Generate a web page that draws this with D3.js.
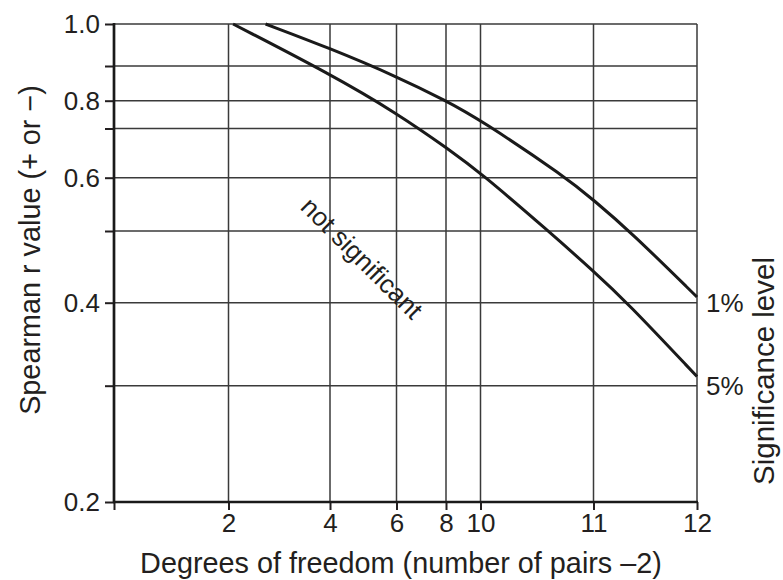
<!DOCTYPE html>
<html>
<head>
<meta charset="utf-8">
<script src="https://cdn.jsdelivr.net/npm/d3@7"></script>
<style>
  body { margin: 0; background: #fff; }
  svg { display: block; }
  text { font-family: "Liberation Sans", Arial, Helvetica, sans-serif; fill: #231f20; }
</style>
</head>
<body>
<svg id="chart" width="783" height="580"></svg>
<script>
// ---- data ----
const dfKnots = [0, 2, 4, 6, 8, 10, 11, 12];          // non-uniform printed axis
const dfTicks = [0, 2, 4, 6, 8, 10, 11, 12];
const dfTickLabels = ["", "2", "4", "6", "8", "10", "11", "12"];
const rKnots = [0.2, 0.3, 0.4, 0.5, 0.6, 0.7, 0.8, 0.9, 1.0];
const rLabelTicks = [0.2, 0.4, 0.6, 0.8, 1.0];

const sig1DF = [2.73, 4, 6, 8, 10, 10.76, 11, 11.35, 12];
const sig1R  = [1.0, 0.942, 0.870, 0.8, 0.731, 0.6, 0.558, 0.5, 0.408];
const sig5DF = [2.09, 4, 6, 8.23, 10, 10.6, 11, 11.32, 12];
const sig5R  = [1.0, 0.877, 0.756, 0.656, 0.61, 0.5, 0.444, 0.401, 0.311];
const seriesNames = ["1%", "5%"];
const seriesLabelR = [0.4, 0.3];

const xTitle = "Degrees of freedom (number of pairs \u20132)";
const yTitle = "Spearman r value (+ or \u2212)";
const rightTitle = "Significance level";
const regionLabel = "not significant";

// ---- scales ----
const svg = d3.select("#chart");
const x = d3.scaleLinear().domain(dfKnots)
  .range([114, 228.5, 330, 396.5, 446, 480.5, 593.5, 697]);
const y = d3.scaleLinear().domain(rKnots)
  .range([502, 385.7, 302.7, 231, 177.7, 128.5, 100.7, 66, 24]);

const gridColor = "#3a3a3a";

// grid lines
svg.append("g").selectAll("line.h").data(rKnots.slice(1)).join("line")
  .attr("x1", x(0)).attr("x2", x(12))
  .attr("y1", d => y(d)).attr("y2", d => y(d))
  .attr("stroke", gridColor).attr("stroke-width", 1.5);
svg.append("g").selectAll("line.v").data(dfTicks.slice(1)).join("line")
  .attr("x1", d => x(d)).attr("x2", d => x(d))
  .attr("y1", y(1.0)).attr("y2", y(0.2))
  .attr("stroke", gridColor).attr("stroke-width", 1.5);

// axes
const yAxis = d3.axisLeft(y).tickValues(rKnots)
  .tickFormat(d => rLabelTicks.some(v => Math.abs(v - d) < 1e-9) ? d.toFixed(1) : "")
  .tickSize(9).tickPadding(5).tickSizeOuter(0);
const gy = svg.append("g").attr("transform", `translate(${x(0)},0)`).call(yAxis);
gy.select(".domain").remove();
gy.selectAll(".tick line").attr("stroke", "#231f20").attr("stroke-width", 2);
gy.selectAll(".tick text").attr("font-size", 26).style("font-family", "Liberation Sans, Arial, sans-serif").attr("fill", "#231f20");

const xAxis = d3.axisBottom(x).tickValues(dfTicks)
  .tickFormat((d, i) => dfTickLabels[i])
  .tickSize(8).tickPadding(4).tickSizeOuter(0);
const gx = svg.append("g").attr("transform", `translate(0,${y(0.2)})`).call(xAxis);
gx.select(".domain").remove();
gx.selectAll(".tick line").attr("stroke", "#231f20").attr("stroke-width", 2);
gx.selectAll(".tick text").attr("font-size", 26).style("font-family", "Liberation Sans, Arial, sans-serif").attr("fill", "#231f20");

// axis lines
svg.append("line").attr("x1", x(0)).attr("x2", x(0)).attr("y1", y(1.0) - 1).attr("y2", y(0.2) + 1)
  .attr("stroke", "#1a1a1a").attr("stroke-width", 2.7);
svg.append("line").attr("x1", x(0) - 1).attr("x2", x(12) + 1).attr("y1", y(0.2)).attr("y2", y(0.2))
  .attr("stroke", "#1a1a1a").attr("stroke-width", 2.7);

// curves
const series = [
  sig1DF.map((d, i) => ({ df: d, r: sig1R[i] })),
  sig5DF.map((d, i) => ({ df: d, r: sig5R[i] }))
];
const line = d3.line().x(d => x(d.df)).y(d => y(d.r)).curve(d3.curveBasis);
svg.append("g").selectAll("path").data(series).join("path")
  .attr("d", line).attr("fill", "none").attr("stroke", "#1a1a1a").attr("stroke-width", 3);

// series labels
svg.append("g").selectAll("text").data(seriesNames).join("text")
  .attr("x", x(12) + 9).attr("y", (d, i) => y(seriesLabelR[i]))
  .attr("dy", "0.35em").attr("font-size", 26).text(d => d);

// titles
svg.append("text").attr("x", 401).attr("y", 573).attr("text-anchor", "middle")
  .attr("font-size", 28.8).text(xTitle);
svg.append("text").attr("transform", "translate(40,250) rotate(-90)").attr("text-anchor", "middle")
  .attr("font-size", 28.8).text(yTitle);
svg.append("text").attr("transform", "translate(774,371) rotate(-90)").attr("text-anchor", "middle")
  .attr("font-size", 29.5).text(rightTitle);
svg.append("text").attr("transform", "translate(362,258) rotate(45)").attr("text-anchor", "middle")
  .attr("dy", "0.35em").attr("font-size", 26).text(regionLabel);
</script>
</body>
</html>
